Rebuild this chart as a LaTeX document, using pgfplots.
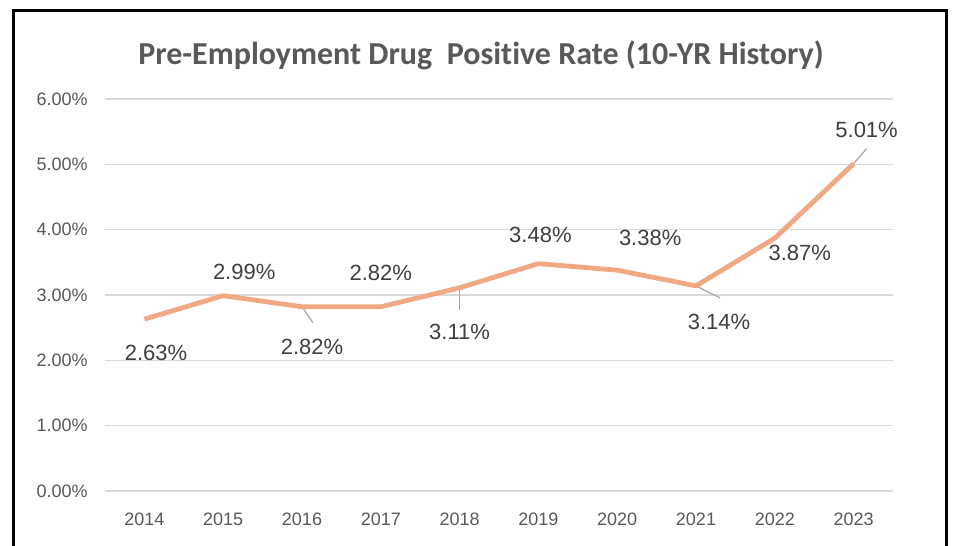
\documentclass[border=0pt]{standalone}
\usepackage{pgfplots}
\pgfplotsset{compat=1.18}
\usepackage{fontspec}
\setmainfont{Liberation Sans}
\newfontfamily\titlefont[Ligatures=NoCommon]{Carlito}
\definecolor{lineorange}{HTML}{F1A983}
\definecolor{txtgrey}{HTML}{595959}
\definecolor{lblgrey}{HTML}{404040}
\definecolor{gridgrey}{HTML}{D9D9D9}
\definecolor{leadgrey}{HTML}{A6A6A6}
\begin{document}
\begin{tikzpicture}
\path[use as bounding box, fill=white] (0,0) rectangle (476.5pt,273pt);
\draw[black, line width=1.3pt] (6.75pt,-2pt) -- (6.75pt,267.75pt) -- (473.25pt,267.75pt) -- (473.25pt,-2pt);
\node[anchor=base, text=txtgrey, inner sep=0pt] at (240.5pt,240.5pt) {\titlefont\fontsize{16}{18}\selectfont\bfseries Pre-Employment Drug\ \ Positive Rate (10-YR History)};
\begin{axis}[
  at={(52.5pt,27.5pt)}, anchor=south west,
  scale only axis, width=394pt, height=196pt,
  xmin=-0.5, xmax=9.5, ymin=0, ymax=6,
  axis line style={draw=none},
  ymajorgrids, grid style={gridgrey, line width=0.75pt},
  major tick length=0pt,
  xtick={0,...,9},
  xticklabels={2014,2015,2016,2017,2018,2019,2020,2021,2022,2023},
  ytick={0,1,2,3,4,5,6},
  yticklabels={0.00\%,1.00\%,2.00\%,3.00\%,4.00\%,5.00\%,6.00\%},
  tick label style={font=\fontsize{9}{10}\selectfont, text=txtgrey, inner sep=0pt},
  xticklabel style={anchor=north, yshift=-11pt},
  yticklabel style={anchor=east, xshift=-8.5pt},
  clip=false,
]
\draw[leadgrey, line width=0.6pt] (axis cs:2,2.82) -- ++(5.5pt,-8pt);
\draw[leadgrey, line width=0.6pt] (axis cs:4,3.11) -- ++(0pt,-11pt);
\draw[leadgrey, line width=0.6pt] (axis cs:7,3.14) -- ++(12pt,-6pt);
\draw[leadgrey, line width=0.6pt] (axis cs:9,5.01) -- ++(6.5pt,7.5pt);
\addplot[color=lineorange, line width=2.4pt, line join=round, mark=none] coordinates {
(0,2.63) (1,2.99) (2,2.82) (3,2.82) (4,3.11) (5,3.48) (6,3.38) (7,3.14) (8,3.87) (9,5.01)};
\begin{scope}[every node/.style={text=lblgrey, font=\fontsize{11}{12}\selectfont, inner sep=0pt}]
\node[xshift=5.8pt, yshift=-17pt] at (axis cs:0,2.63) {2.63\%};
\node[xshift=10.5pt, yshift=12pt] at (axis cs:1,2.99) {2.99\%};
\node[xshift=5pt, yshift=-20pt] at (axis cs:2,2.82) {2.82\%};
\node[xshift=0pt, yshift=17pt] at (axis cs:3,2.82) {2.82\%};
\node[xshift=0pt, yshift=-22pt] at (axis cs:4,3.11) {3.11\%};
\node[xshift=1pt, yshift=14.5pt] at (axis cs:5,3.48) {3.48\%};
\node[xshift=16.5pt, yshift=16pt] at (axis cs:6,3.38) {3.38\%};
\node[xshift=11.5pt, yshift=-18pt] at (axis cs:7,3.14) {3.14\%};
\node[xshift=12.5pt, yshift=-7.5pt] at (axis cs:8,3.87) {3.87\%};
\node[xshift=6.5pt, yshift=17pt] at (axis cs:9,5.01) {5.01\%};
\end{scope}
\end{axis}
\end{tikzpicture}
\end{document}
